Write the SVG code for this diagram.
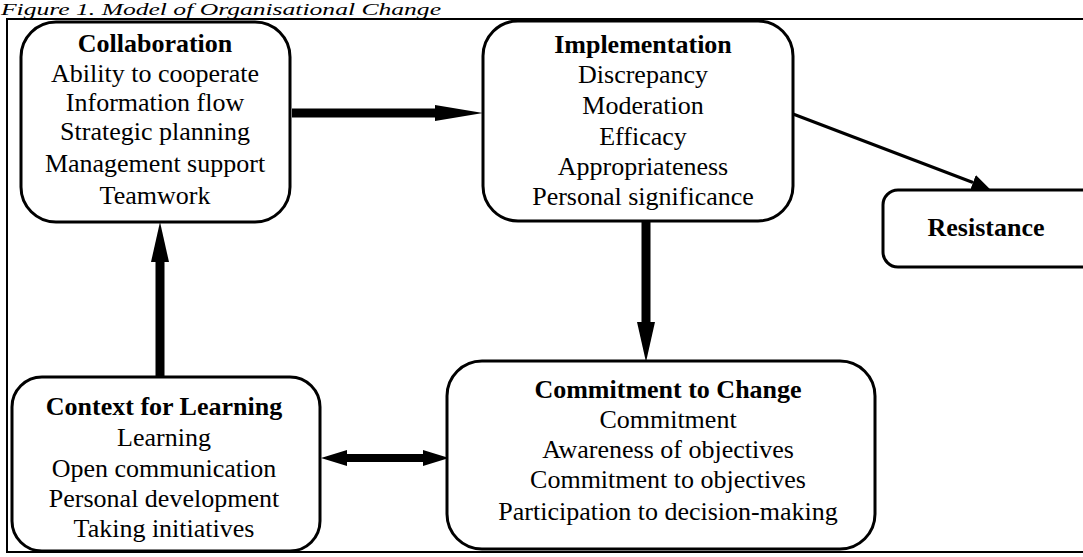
<svg xmlns="http://www.w3.org/2000/svg" width="1083" height="557" viewBox="0 0 1083 557">
  <style>
    .box { fill: #ffffff; stroke: #000000; stroke-width: 3; }
    .t { font-family: "Liberation Serif", "Times New Roman", serif; font-size: 26px; fill: #000; text-anchor: middle; }
    .h { font-weight: bold; }
    .thick { stroke: #000; fill: none; }
    .title { font-family: "Liberation Serif", "Times New Roman", serif; font-size: 16px; font-style: italic; fill: #000; }
  </style>
  <defs>
    <marker id="headA" markerUnits="userSpaceOnUse" markerWidth="50" markerHeight="18" refX="0" refY="8" orient="auto">
      <path d="M0,0 L48,8 L0,16 z" fill="#000"/>
    </marker>
    <marker id="headB" markerUnits="userSpaceOnUse" markerWidth="42" markerHeight="18" refX="0" refY="9" orient="auto">
      <path d="M0,0 L40,9 L0,18 z" fill="#000"/>
    </marker>
    <marker id="headC" markerUnits="userSpaceOnUse" markerWidth="28" markerHeight="16" refX="0" refY="8" orient="auto-start-reverse">
      <path d="M0,0 L26,8 L0,16 z" fill="#000"/>
    </marker>
    <marker id="headD" markerUnits="userSpaceOnUse" markerWidth="20" markerHeight="18" refX="0" refY="9" orient="auto">
      <path d="M0,1 L18,9 L0,17 z" fill="#000"/>
    </marker>
  </defs>
  <rect width="1083" height="557" fill="#ffffff"/>

  <text class="title" x="1" y="15" textLength="440" lengthAdjust="spacingAndGlyphs">Figure 1. Model of Organisational Change</text>

  <!-- outer frame -->
  <path d="M1090,19 L7,19 L7,552 L1090,552" fill="none" stroke="#000" stroke-width="2"/>

  <g id="connectors">
    <line class="thick" x1="292" y1="113" x2="435" y2="113" stroke-width="9" marker-end="url(#headA)"/>
    <line class="thick" x1="646" y1="221" x2="646" y2="322" stroke-width="9" marker-end="url(#headB)"/>
    <line class="thick" x1="160" y1="377" x2="160" y2="262" stroke-width="9" marker-end="url(#headB)"/>
    <line class="thick" x1="347" y1="458" x2="423" y2="458" stroke-width="8" marker-start="url(#headC)" marker-end="url(#headC)"/>
    <line class="thick" x1="793" y1="114" x2="973" y2="182.5" stroke-width="3" marker-end="url(#headD)"/>
  </g>

  <g id="collaboration">
    <rect class="box" x="21" y="22" width="269" height="200" rx="35" ry="35"/>
    <text class="t h" x="155" y="52">Collaboration</text>
    <text class="t" x="155" y="82">Ability to cooperate</text>
    <text class="t" x="155" y="111">Information flow</text>
    <text class="t" x="155" y="140">Strategic planning</text>
    <text class="t" x="155" y="172">Management support</text>
    <text class="t" x="155" y="204">Teamwork</text>
  </g>

  <g id="implementation">
    <rect class="box" x="483" y="21" width="310" height="200" rx="35" ry="35"/>
    <text class="t h" x="643" y="53">Implementation</text>
    <text class="t" x="643" y="83">Discrepancy</text>
    <text class="t" x="643" y="114">Moderation</text>
    <text class="t" x="643" y="145">Efficacy</text>
    <text class="t" x="643" y="175">Appropriateness</text>
    <text class="t" x="643" y="205">Personal significance</text>
  </g>

  <g id="resistance">
    <rect class="box" x="883" y="190" width="220" height="77" rx="15" ry="15"/>
    <text class="t h" x="986" y="236">Resistance</text>
  </g>

  <g id="context">
    <rect class="box" x="12" y="377" width="308" height="174" rx="30" ry="30"/>
    <text class="t h" x="164" y="415">Context for Learning</text>
    <text class="t" x="164" y="446">Learning</text>
    <text class="t" x="164" y="477">Open communication</text>
    <text class="t" x="164" y="507">Personal development</text>
    <text class="t" x="164" y="537">Taking initiatives</text>
  </g>

  <g id="commitment">
    <rect class="box" x="447" y="361" width="428" height="188" rx="35" ry="35"/>
    <text class="t h" x="668" y="398">Commitment to Change</text>
    <text class="t" x="668" y="428">Commitment</text>
    <text class="t" x="668" y="458">Awareness of objectives</text>
    <text class="t" x="668" y="488">Commitment to objectives</text>
    <text class="t" x="668" y="520">Participation to decision-making</text>
  </g>
</svg>
